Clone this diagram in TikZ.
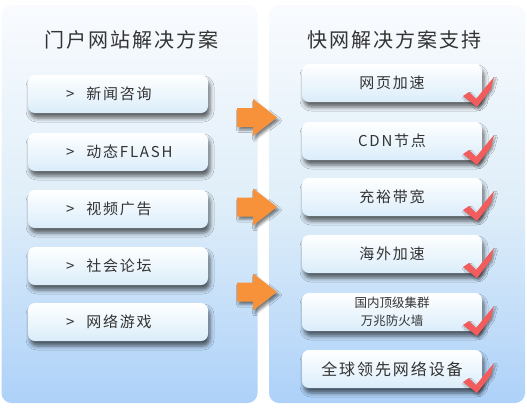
\documentclass[tikz,border=0pt]{standalone}
\usepackage{fontspec}
\newfontfamily\cjk{Noto Sans CJK SC}
\newfontfamily\cjkt[LetterSpace=10]{Noto Sans CJK SC}
\newfontfamily\cjkb[LetterSpace=12]{Noto Sans CJK SC}
\usetikzlibrary{shadows.blur}
\definecolor{txt}{HTML}{333333}
\definecolor{ptop}{HTML}{F9FBFE}
\definecolor{pmid}{HTML}{DFEEF9}
\definecolor{pbot}{HTML}{ADD1F9}
\definecolor{btop}{HTML}{FFFFFF}
\definecolor{bbot}{HTML}{DAEDFA}
\definecolor{arrc}{HTML}{F8923A}
\definecolor{chk}{HTML}{F25C5C}
\tikzset{
  panel/.style={rounded corners=10pt, top color=ptop, bottom color=pbot, middle color=pmid, minimum width=256pt, minimum height=398pt, inner sep=0pt},
  ttl/.style={text=txt, font=\cjkt\fontsize{20}{24}\selectfont, inner sep=0pt},
  bx/.style={rounded corners=7pt, top color=btop, bottom color=bbot, minimum width=180pt, minimum height=38pt, inner sep=0pt, text=txt, font=\cjkb\fontsize{15}{18}\selectfont,
    blur shadow={shadow xshift=2pt, shadow yshift=-5pt, shadow blur radius=4pt, shadow opacity=60}},
  lbx/.style={bx, text width=180pt, align=left},
  arr/.style={fill=arrc, blur shadow={shadow xshift=2pt, shadow yshift=-3pt, shadow blur radius=2.5pt, shadow opacity=50}},
  ck/.style={fill=chk, blur shadow={shadow xshift=1.5pt, shadow yshift=-2pt, shadow blur radius=2pt, shadow opacity=40}}
}
\newcommand\ckmark[1]{\begin{scope}[shift={(0,#1)}]\fill[ck] (463,13) -- (469,9) -- (476,16) -- (494,-6) -- (491,6) -- (477,24) -- cycle;\end{scope}}
\newcommand\barrow[1]{\begin{scope}[shift={(0,#1)}]\fill[arr] (237,-9.5) -- (253,-9.5) -- (253,-18.5) -- (277,0) -- (253,18.5) -- (253,9.5) -- (237,9.5) -- cycle;\end{scope}}
\begin{document}
\begin{tikzpicture}[x=1pt,y=-1pt]
\useasboundingbox (0,0) rectangle (527,410);
\node[panel] (lp) at (129.5,204) {};
\node[panel] (rp) at (397,204) {};
\node[ttl] (lt) at (131,40) {门户网站解决方案};
\node[ttl] (rt) at (394,40) {快网解决方案支持};
% left boxes
\node[lbx] (l1) at (118,94)  {\hspace*{38pt}>\hspace{12pt}新闻咨询};
\node[lbx] (l2) at (118,152) {\hspace*{38pt}>\hspace{12pt}动态FLASH};
\node[lbx] (l3) at (118,209) {\hspace*{38pt}>\hspace{12pt}视频广告};
\node[lbx] (l4) at (118,266) {\hspace*{38pt}>\hspace{12pt}社会论坛};
\node[lbx] (l5) at (118,322) {\hspace*{38pt}>\hspace{12pt}网络游戏};
% right boxes
\node[bx] (r1) at (392,83)  {网页加速};
\node[bx] (r2) at (392,141) {CDN节点};
\node[bx] (r3) at (392,197) {充裕带宽};
\node[bx] (r4) at (392,254) {海外加速};
\node[bx, align=center, font=\cjk\fontsize{12.5}{18}\selectfont] (r5) at (392,312) {国内顶级集群\\万兆防火墙};
\node[bx, font=\cjkb\fontsize{16}{18}\selectfont] (r6) at (392,369) {全球领先网络设备};
% arrows
\barrow{117.5}
\barrow{207}
\barrow{292}
% checks
\ckmark{83}
\ckmark{141}
\ckmark{197}
\ckmark{254}
\ckmark{312}
\ckmark{369}
\end{tikzpicture}
\end{document}
